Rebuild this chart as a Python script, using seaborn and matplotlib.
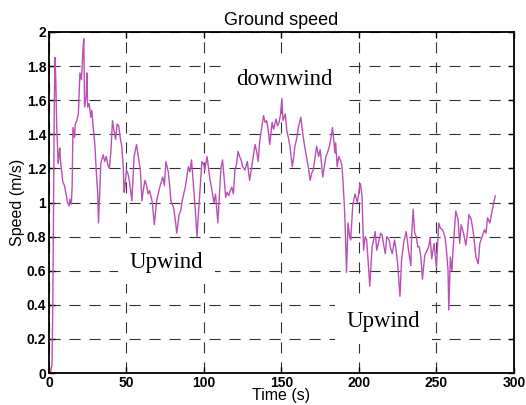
import matplotlib
matplotlib.use('Agg')
import numpy as np
import pandas as pd
import matplotlib.pyplot as plt
import seaborn as sns
from matplotlib.ticker import FormatStrFormatter

sns.set_style('ticks')
plt.rcParams['font.family'] = ['Liberation Sans', 'DejaVu Sans']
plt.rcParams.update({'text.color': 'black', 'axes.labelcolor': 'black',
                     'xtick.color': 'black', 'ytick.color': 'black'})

# (time s, ground speed m/s), split by leg
first_upwind = [
    (0, 0.02), (1, 0.0), (2, 0.05), (2.5, 0.4), (3, 1.0), (3.5, 1.6), (4, 1.85), (4.5, 1.7),
    (5, 1.45), (6, 1.23), (6.5, 1.28), (7, 1.32), (7.5, 1.24), (8, 1.2), (9, 1.12), (10, 1.1),
    (11, 1.05), (12, 1.0), (13, 0.98), (13.5, 1.02), (14.5, 0.99), (15, 1.1), (15.5, 1.44),
    (16.5, 1.38), (17, 1.46), (18, 1.48), (19, 1.52), (20, 1.76), (21, 1.72), (22, 1.9),
    (22.5, 1.96), (23, 1.56), (24, 1.62), (24.5, 1.76), (25, 1.56), (26, 1.58), (27, 1.5),
    (27.7, 1.54), (28.5, 1.45), (29.7, 1.33), (30.5, 1.19), (31.5, 1.05), (32, 0.88), (33, 1.12),
    (33.5, 1.23), (35, 1.28), (36, 1.24), (37, 1.27), (38, 1.22), (39, 1.2), (40, 1.3), (41, 1.48),
    (42, 1.42), (43, 1.37), (44, 1.46), (45, 1.45), (46, 1.38), (47, 1.33), (48, 1.2), (48.5, 1.06),
    (49, 1.09), (50, 1.19), (51, 1.17), (52, 1.12), (53.5, 1.01), (54, 1.1), (55, 1.27),
    (56.5, 1.34), (57.5, 1.28), (59, 1.19), (60, 1.01), (61, 1.08), (62, 1.13), (63, 1.1),
    (64, 1.05), (65, 1.07), (66.5, 1.01), (67, 0.97), (68, 0.87), (69.5, 1.01), (70.5, 1.05),
    (71.5, 1.09), (72.5, 1.12), (73.5, 1.15), (74.5, 1.1), (75.5, 1.24), (77, 1.18), (78, 1.09),
    (78.7, 1.01), (80, 0.98), (80.6, 0.96), (81.5, 0.9), (82.5, 0.82), (84, 0.93), (85, 0.95),
    (86, 1.01), (87, 1.05), (88, 1.09), (89, 1.15), (90, 1.21), (91, 1.18), (92, 1.25),
    (93.5, 1.07), (94.5, 0.95), (95.5, 0.8), (97, 1.01), (98, 1.15), (98.7, 1.24)]
downwind_leg = [
    (100, 1.22), (100.6, 1.19), (102, 1.27), (103, 1.2), (104, 1.13), (105, 1.08), (106.5, 1.0),
    (107.5, 1.05), (109, 0.88), (110.5, 1.13), (111, 1.2), (112, 1.25), (113, 1.15), (114, 1.03),
    (115, 1.06), (116, 1.04), (117, 1.07), (118, 1.09), (119, 1.05), (120, 1.19), (121, 1.22),
    (122, 1.3), (123, 1.27), (124, 1.25), (125, 1.21), (126.5, 1.19), (128, 1.24), (129.5, 1.13),
    (131, 1.22), (132, 1.28), (133, 1.34), (134, 1.3), (135, 1.24), (136, 1.36), (137, 1.42),
    (138.5, 1.51), (139.5, 1.47), (140.5, 1.48), (141.5, 1.42), (142.5, 1.34), (144, 1.47),
    (145, 1.43), (146.5, 1.49), (147.5, 1.45), (148.5, 1.47), (149.5, 1.52), (150.3, 1.61),
    (151, 1.48), (152.5, 1.52), (153.5, 1.42), (154.5, 1.38), (155.5, 1.33), (157, 1.21),
    (158, 1.27), (158.7, 1.33), (160, 1.38), (160.7, 1.43), (162.5, 1.5), (164, 1.39), (165, 1.33),
    (166.5, 1.25), (167.5, 1.2), (168.5, 1.13), (169.5, 1.17), (170.5, 1.19), (171.5, 1.25),
    (172.7, 1.33), (174, 1.27), (175, 1.31), (176.7, 1.15), (177.5, 1.2), (178.7, 1.27), (180, 1.3),
    (181, 1.33), (182, 1.38), (183, 1.44), (184.5, 1.29), (185, 1.35), (186, 1.21), (187, 1.27),
    (188, 1.25), (189, 1.22), (189.7, 1.13)]
second_upwind = [
    (190.5, 1.0), (191, 0.9), (192, 0.59), (193, 0.88), (194, 0.8), (194.7, 0.78), (196, 0.98),
    (197.5, 1.05), (199, 1.0), (200, 1.06), (200.6, 1.11), (201, 1.11), (202, 1.04), (203, 0.72),
    (204, 0.8), (205, 0.78), (206, 0.65), (207, 0.51), (208.5, 0.74), (209.5, 0.78), (210.5, 0.83),
    (211.5, 0.72), (212.5, 0.76), (214, 0.82), (215, 0.81), (216, 0.75), (217, 0.7), (218, 0.8),
    (219.5, 0.78), (220.5, 0.73), (221.5, 0.7), (223, 0.78), (224, 0.72), (225, 0.64),
    (226.5, 0.45), (227.5, 0.66), (228, 0.7), (229, 0.77), (230.5, 0.83), (232, 0.72),
    (233.5, 0.63), (234, 0.8), (235, 0.96), (236, 0.82), (237, 0.8), (238, 0.74), (239, 0.74),
    (240, 0.68), (241, 0.55), (242.5, 0.69), (244, 0.72), (245, 0.74), (246, 0.79), (247, 0.67),
    (248.5, 0.76), (250, 0.62), (251.5, 0.88), (252.5, 0.85), (254, 0.84), (255.5, 0.8),
    (256.5, 0.72), (257.5, 0.6), (258, 0.37), (259, 0.68), (260, 0.6), (261, 0.76), (262.5, 0.95),
    (264, 0.9), (265, 0.76), (266, 0.87), (267.5, 0.82), (269, 0.75), (270, 0.82), (271, 0.93),
    (272.5, 0.9), (274, 0.81), (275.5, 0.68), (277, 0.64), (278, 0.76), (279.5, 0.8), (281, 0.84),
    (282, 0.82), (283, 0.91), (284.5, 0.88), (285.5, 0.93), (287, 1.0), (288, 1.04)]

notes = [('downwind', 152, 1.72), ('Upwind', 76, 0.65), ('Upwind', 216, 0.30)]

df = pd.DataFrame(first_upwind + downwind_leg + second_upwind,
                  columns=['Time (s)', 'Speed (m/s)'])

fig = plt.figure(figsize=(5.26, 4.05), dpi=100)
ax = fig.add_axes([0.093, 0.079, 0.884, 0.842])
sns.lineplot(data=df, x='Time (s)', y='Speed (m/s)', ax=ax, color='#bb4fb3', lw=1.0)

ax.set_xlim(0, 300)
ax.set_ylim(0, 2)
ax.set_xticks(np.arange(0, 301, 50))
ax.set_yticks(np.arange(0, 2.01, 0.2))
ax.yaxis.set_major_formatter(FormatStrFormatter('%g'))
ax.grid(True, ls=(0, (10, 8)), color='#333333', lw=0.8)
ax.tick_params(direction='in', top=True, right=True, labelsize=10, length=4, width=1, pad=2)
for lab in ax.get_xticklabels() + ax.get_yticklabels():
    lab.set_fontweight('bold')
for s in ax.spines.values():
    s.set_linewidth(1.3)
    s.set_color('black')
ax.set_xlabel('Time (s)', fontsize=11.5, labelpad=-1)
ax.set_ylabel('Speed (m/s)', fontsize=11.5, labelpad=1)
ax.set_title('Ground speed', fontsize=13, pad=5)

for txt, x, y in notes:
    ax.text(x, y, txt, family=['Liberation Serif', 'DejaVu Serif'], fontsize=16.5,
            ha='center', va='center', zorder=1,
            bbox=dict(boxstyle='square,pad=0.5', facecolor='white', edgecolor='none'))

fig.savefig('out.png', dpi=100)
